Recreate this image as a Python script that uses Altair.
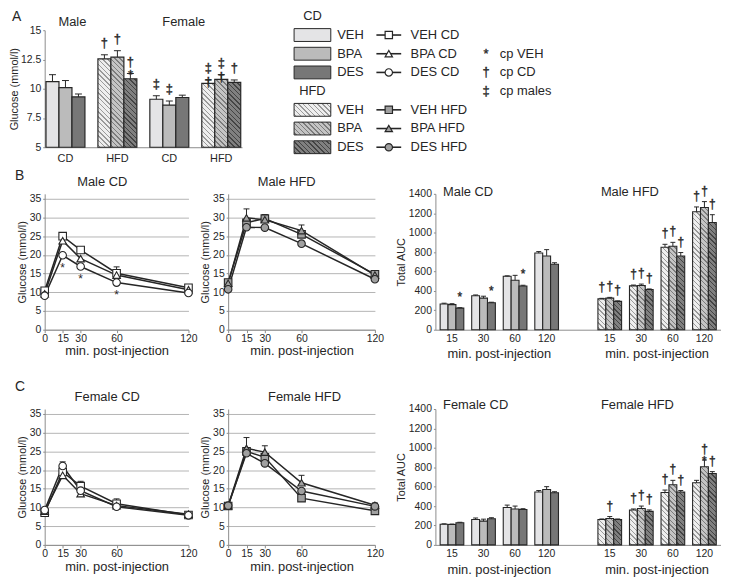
import math
import altair as alt

FONT = "Liberation Sans"
INK = "#262626"
AXIS = "#8c8c8c"
GRID = "#b4b4b4"

# ---------------- data ----------------
trts = ["VEH", "BPA", "DES"]
diets = ["CD", "HFD"]

# Panel A: fasting glucose (mmol/l)
a_groups = ["Male|CD", "Male|HFD", "Female|CD", "Female|HFD"]
a_mean_veh = [10.6, 12.55, 9.1, 10.45]
a_mean_bpa = [10.1, 12.7, 8.6, 10.8]
a_mean_des = [9.3, 10.85, 9.25, 10.55]
a_err_veh = [0.6, 0.35, 0.3, 0.3]
a_err_bpa = [0.6, 0.55, 0.35, 0.4]
a_err_des = [0.25, 0.45, 0.2, 0.2]
a_sig_veh = ["", "†", "‡", "‡\n†"]
a_sig_bpa = ["", "†", "‡", "‡\n†"]
a_sig_des = ["", "†\n*", "", "†"]
a_titles = ["Male", "Female"]
a_title_slots = ["Male|CD|VEH", "Female|CD|VEH"]
a_ticks = [5, 7.5, 10, 12.5, 15]

# Panels B/C: glucose after injection (mmol/l)
times = [0, 15, 30, 60, 120]
glu_ticks = [0, 5, 10, 15, 20, 25, 30, 35]
m_cd_veh = [10.4, 25.0, 21.3, 15.1, 11.2]
m_cd_bpa = [9.6, 23.8, 19.0, 14.6, 10.7]
m_cd_des = [9.1, 19.9, 16.9, 12.6, 9.8]
m_cd_err_veh = [0, 0.8, 0.6, 1.7, 0]
m_cd_err_bpa = [0, 0, 0, 0, 0]
m_cd_err_des = [0, 0, 0, 0, 0]
m_cd_sig_des = ["", "*", "*", "*", ""]

m_hfd_veh = [12.6, 28.6, 29.7, 25.5, 14.8]
m_hfd_bpa = [12.4, 29.9, 29.4, 26.5, 14.6]
m_hfd_des = [10.8, 27.4, 27.3, 23.0, 13.5]
m_hfd_err_veh = [0, 0, 1.1, 0, 0]
m_hfd_err_bpa = [0, 2.4, 0, 1.5, 0]
m_hfd_err_des = [0, 0, 0, 0, 0]

f_cd_veh = [8.6, 19.5, 15.7, 11.0, 8.0]
f_cd_bpa = [9.0, 18.6, 13.7, 10.5, 8.2]
f_cd_des = [9.3, 21.1, 14.5, 10.2, 7.9]
f_cd_err_veh = [0, 0, 1.3, 1.3, 0]
f_cd_err_bpa = [0, 0, 0, 0, 0.6]
f_cd_err_des = [0, 1.1, 0, 0, 0]

f_hfd_veh = [10.4, 25.0, 23.4, 12.5, 9.1]
f_hfd_bpa = [10.5, 25.8, 24.8, 16.6, 10.6]
f_hfd_des = [10.5, 24.5, 21.8, 14.4, 10.3]
f_hfd_err_veh = [0, 0, 0, 0, 0]
f_hfd_err_bpa = [0, 2.9, 1.7, 2.0, 0.6]
f_hfd_err_des = [0, 0, 0, 0, 0]

# AUC panels
auc_times = ["15", "30", "60", "120"]
auc_ticks = [0, 200, 400, 600, 800, 1000, 1200, 1400]
m_auc_cd_veh = [265, 350, 550, 790]
m_auc_cd_bpa = [258, 325, 510, 760]
m_auc_cd_des = [222, 278, 450, 675]
m_auc_cd_err_veh = [8, 8, 5, 15]
m_auc_cd_err_bpa = [10, 20, 50, 65]
m_auc_cd_err_des = [5, 5, 8, 15]
m_auc_cd_sig_veh = ["", "", "", ""]
m_auc_cd_sig_bpa = ["", "", "", ""]
m_auc_cd_sig_des = ["*", "*", "*", ""]
m_auc_hfd_veh = [318, 452, 850, 1215]
m_auc_hfd_bpa = [325, 455, 860, 1260]
m_auc_hfd_des = [292, 415, 760, 1105]
m_auc_hfd_err_veh = [5, 8, 30, 50]
m_auc_hfd_err_bpa = [8, 15, 40, 60]
m_auc_hfd_err_des = [5, 5, 35, 80]
m_auc_hfd_sig_veh = ["†", "†", "†", "†"]
m_auc_hfd_sig_bpa = ["†", "†", "†", "†"]
m_auc_hfd_sig_des = ["†", "†", "†", "†"]

f_auc_cd_veh = [212, 262, 385, 545]
f_auc_cd_bpa = [210, 245, 370, 570]
f_auc_cd_des = [228, 270, 365, 538]
f_auc_cd_err_veh = [5, 15, 25, 15]
f_auc_cd_err_bpa = [5, 20, 30, 30]
f_auc_cd_err_des = [5, 10, 8, 10]
f_auc_cd_sig_veh = ["", "", "", ""]
f_auc_cd_sig_bpa = ["", "", "", ""]
f_auc_cd_sig_des = ["", "", "", ""]
f_auc_hfd_veh = [262, 360, 540, 640]
f_auc_hfd_bpa = [272, 375, 620, 805]
f_auc_hfd_des = [262, 345, 545, 735]
f_auc_hfd_err_veh = [5, 10, 25, 25]
f_auc_hfd_err_bpa = [20, 25, 45, 70]
f_auc_hfd_err_des = [5, 15, 15, 20]
f_auc_hfd_sig_veh = ["", "†", "†", ""]
f_auc_hfd_sig_bpa = ["†", "†", "†", "†\n*"]
f_auc_hfd_sig_des = ["", "†", "†", "†"]

# Legend texts
legend_headers = ["CD", "HFD"]
legend_sig_symbols = ["*", "†", "‡"]
legend_sig_labels = ["cp VEH", "cp CD", "cp males"]

# ---------------- styles ----------------
solid = {"VEH": "#e4e4e6", "BPA": "#bbbbbb", "DES": "#777777"}
hatch_bg = {"VEH": "#eeeeee", "BPA": "#c4c4c4", "DES": "#808080"}
hatch_fg = {"VEH": "#9a9a9a", "BPA": "#7c7c7c", "DES": "#444444"}
marker_fill = {"CD": "#ffffff", "HFD": "#a0a0a0"}
shapes = ["square", "triangle-up", "circle"]


def hatch(trt, w, h, period=3.4, lw=1.0):
    """Diagonal stripe fill built as a hard-stop linear gradient."""
    bg, fg = hatch_bg[trt], hatch_fg[trt]
    w = max(w, 0.5)
    h = max(h, 0.5)
    kk = (w + h) / (w * w + h * h)
    n = (w + h) / (period * math.sqrt(2))
    frac = lw / period
    stops = [{"offset": 0, "color": bg}]
    k = 0
    while True:
        s = (k + 0.5 - frac / 2) / n
        e = (k + 0.5 + frac / 2) / n
        if s >= 1:
            break
        e = min(e, 1.0)
        s = round(s, 5)
        e = round(e, 5)
        stops += [{"offset": s, "color": bg}, {"offset": s, "color": fg},
                  {"offset": e, "color": fg}, {"offset": e, "color": bg}]
        k += 1
    stops.append({"offset": 1, "color": bg})
    return {"gradient": "linear", "x1": 0, "y1": 1,
            "x2": round(kk * w, 5), "y2": round(1 - kk * h, 5), "stops": stops}


def text_layer(txt, x, y, size=13, align="left"):
    return alt.Chart(alt.Data(values=[{"L": txt}])).mark_text(
        align=align, baseline="middle", fontSize=size, color=INK
    ).encode(x=alt.value(x), y=alt.value(y), text="L:N")


MID_LABEL = "split(datum.value, '|')[2] == 'BPA' ? split(datum.value, '|')[1] : ''"
SIG_STYLE = dict(color=INK, stroke=INK, strokeWidth=0.35)

# ---------------- Panel A ----------------
A_W, A_H = 199, 118
a_slots = []
for gi, g in enumerate(a_groups):
    if gi > 0:
        a_slots.append(f"gap{gi}")
    for t in trts:
        a_slots.append(f"{g}|{t}")
A_PO = 0.1
a_barw = A_W / (len(a_slots) + 2 * A_PO)

a_recs = []
for trt, means, errs, sigs in [("VEH", a_mean_veh, a_err_veh, a_sig_veh),
                               ("BPA", a_mean_bpa, a_err_bpa, a_sig_bpa),
                               ("DES", a_mean_des, a_err_des, a_sig_des)]:
    for g, v, e, s in zip(a_groups, means, errs, sigs):
        h = (v - 5) / 10 * A_H
        fill = hatch(trt, a_barw, h) if g.endswith("HFD") else solid[trt]
        a_recs.append({"slot": f"{g}|{trt}", "v": v, "top": v + e, "sig": s, "fill": fill})

xA = alt.X("slot:N", sort=a_slots,
           scale=alt.Scale(domain=a_slots, paddingInner=0, paddingOuter=A_PO),
           axis=alt.Axis(title=None, labelExpr=MID_LABEL, labelAngle=0, ticks=False,
                         labelFontSize=11, labelPadding=5))
ytA = "Glucose (mmol/l)"
ysA = alt.Scale(domain=[5, 15], zero=False, nice=False)
yaA = alt.Axis(values=a_ticks, grid=False, title=ytA, titlePadding=1, format=".1~f",
               labelOverlap=False, labelFlush=False)

baseA = alt.Chart(alt.Data(values=a_recs))
barsA = baseA.mark_bar(stroke=INK, strokeWidth=1.2).encode(
    x=xA, y=alt.Y("v:Q", scale=ysA, axis=yaA, title=ytA), y2=alt.datum(5),
    fill=alt.Fill("fill:N", scale=None))
errA = baseA.mark_rule(color=INK, strokeWidth=1).encode(
    x=xA, y=alt.Y("v:Q", scale=ysA, axis=yaA, title=ytA), y2="top:Q")
capA = baseA.mark_point(shape="M-1,0H1", size=49, color=INK, strokeWidth=1, opacity=1,
                        filled=False).encode(
    x=xA, y=alt.Y("top:Q", scale=ysA, axis=yaA, title=ytA))
sigA = baseA.mark_text(baseline="bottom", fontSize=13, lineBreak="\n", lineHeight=14,
                       dy=-5, **SIG_STYLE).encode(
    x=xA, y=alt.Y("top:Q", scale=ysA, axis=yaA, title=ytA), text="sig:N")
titA = alt.Chart(alt.Data(values=[{"slot": s, "lab": t} for s, t in zip(a_title_slots, a_titles)])
                 ).mark_text(align="left", baseline="middle", fontSize=13, dx=6, color=INK).encode(
    x=xA, y=alt.value(-8), text="lab:N")

panelA = alt.layer(barsA, errA, capA, sigA, titA, text_layer("A", -33, -13, 14)).properties(
    width=A_W, height=A_H)

# ---------------- Legend ----------------
SW_W, SW_H = 37, 13
leg_recs_head = [{"col": "bar", "row": r, "text": t} for r, t in zip([0, 4], legend_headers)]
leg_recs_sw = []
leg_recs_line = []
for d, base_row in zip(diets, [1, 5]):
    for i, trt in enumerate(trts):
        fill = hatch(trt, SW_W, SW_H) if d == "HFD" else solid[trt]
        leg_recs_sw.append({"col": "bar", "row": base_row + i, "text": trt, "fill": fill})
        leg_recs_line.append({"col": "line", "row": base_row + i, "text": f"{trt} {d}",
                              "trt": trt, "mfill": marker_fill[d]})
leg_recs_sig = [{"col": "sym", "row": 2 + i, "sym": s, "text": t}
                for i, (s, t) in enumerate(zip(legend_sig_symbols, legend_sig_labels))]

xL = alt.X("col:N", scale=alt.Scale(type="point", domain=["bar", "line", "sym"], range=[18, 193],
                                    padding=0), axis=None)
yL = alt.Y("row:O", scale=alt.Scale(type="point", domain=list(range(8)), range=[-14, 118],
                                    padding=0), axis=None)
L_DX = -10.5

lg_head = alt.Chart(alt.Data(values=leg_recs_head)).mark_text(fontSize=13, color=INK).encode(
    x=xL, y=yL, text="text:N")
lg_sw = alt.Chart(alt.Data(values=leg_recs_sw)).mark_point(
    shape="M-1,-0.35H1V0.35H-1Z", size=SW_W * SW_W, filled=True, stroke=INK, strokeWidth=1,
    opacity=1).encode(x=xL, y=yL, fill=alt.Fill("fill:N", scale=None))
lg_sw_t = alt.Chart(alt.Data(values=leg_recs_sw)).mark_text(
    align="left", dx=25, fontSize=13, color=INK).encode(x=xL, y=yL, text="text:N")
lg_seg = alt.Chart(alt.Data(values=leg_recs_line)).mark_point(
    shape="M-1,0H1", size=625, filled=False, color=INK, strokeWidth=1.6, opacity=1,
    xOffset=L_DX).encode(x=xL, y=yL)
lg_mk = alt.Chart(alt.Data(values=leg_recs_line)).mark_point(
    filled=True, size=55, stroke=INK, strokeWidth=1.2, opacity=1, xOffset=L_DX).encode(
    x=xL, y=yL, fill=alt.Fill("mfill:N", scale=None),
    shape=alt.Shape("trt:N", scale=alt.Scale(domain=trts, range=shapes), legend=None))
lg_line_t = alt.Chart(alt.Data(values=leg_recs_line)).mark_text(
    align="left", dx=11.5, fontSize=13, color=INK).encode(x=xL, y=yL, text="text:N")
lg_sym = alt.Chart(alt.Data(values=leg_recs_sig)).mark_text(
    fontSize=13, **SIG_STYLE).encode(x=xL, y=yL, text="sym:N")
lg_sym_t = alt.Chart(alt.Data(values=leg_recs_sig)).mark_text(
    align="left", dx=14, fontSize=13, color=INK).encode(x=xL, y=yL, text="text:N")

legend = alt.layer(lg_head, lg_sw, lg_sw_t, lg_seg, lg_mk, lg_line_t, lg_sym, lg_sym_t).properties(
    width=260, height=118)

# ---------------- line panels ----------------
LH = 137
Y_TOP = 35 * LH / (LH - 5)


def line_panel(title, title_x, diet, series, width, letter=None, letter_y=-18, sig_des=None):
    recs = []
    for trt, vals, errs in series:
        for i, (t, v, e) in enumerate(zip(times, vals, errs)):
            s = sig_des[i] if (sig_des is not None and trt == "DES") else ""
            recs.append({"t": t, "v": v, "top": v + e, "err": e, "trt": trt, "sig": s})
    base = alt.Chart(alt.Data(values=recs))
    xt = "min. post-injection"
    yt = "Glucose (mmol/l)"
    x = alt.X("t:Q", scale=alt.Scale(domain=[0, 120], nice=False),
              axis=alt.Axis(values=times, grid=False, title=xt, titleFontSize=13, tickSize=3,
                            labelPadding=1, titlePadding=1, labelOverlap=False, labelFlush=False),
              title=xt)
    ys = alt.Scale(domain=[0, Y_TOP], nice=False)
    yax = alt.Axis(values=glu_ticks, grid=True, title=yt, labelOverlap=False, labelFlush=False)
    y = alt.Y("v:Q", scale=ys, axis=yax, title=yt)
    ytop = alt.Y("top:Q", scale=ys, axis=yax, title=yt)
    lines = base.mark_line(color=INK, strokeWidth=1.5).encode(x=x, y=y, detail="trt:N")
    eb = base.transform_filter("datum.err > 0")
    err = eb.mark_rule(color=INK, strokeWidth=1).encode(x=x, y=y, y2="top:Q")
    cap = eb.mark_point(shape="M-1,0H1", size=36, filled=False, color=INK, strokeWidth=1,
                        opacity=1).encode(x=x, y=ytop)
    pts = base.mark_point(filled=True, size=58, stroke=INK, strokeWidth=1.1,
                          fill=marker_fill[diet], opacity=1).encode(
        x=x, y=y, shape=alt.Shape("trt:N", scale=alt.Scale(domain=trts, range=shapes), legend=None))
    layers = [lines, err, cap, pts, text_layer(title, title_x, -12, 13, "center")]
    if sig_des is not None:
        stars = base.transform_filter("datum.sig != ''").mark_text(
            dy=13, fontSize=12, color=INK).encode(x=x, y=y, text="sig:N")
        layers.append(stars)
    if letter:
        layers.append(text_layer(letter, -30, letter_y, 14))
    return alt.layer(*layers).properties(width=width, height=LH)


# ---------------- AUC panels ----------------
AW, AH = 288, 137
au_slots = []
for d in diets:
    for i, t in enumerate(auc_times):
        if i > 0:
            au_slots.append(f"gap|{d}|{i}")
        for trt in trts:
            au_slots.append(f"{d}|{t}|{trt}")
    if d == "CD":
        au_slots += [f"mid|{k}" for k in range(5)]
AU_PO = 0.6
au_barw = AW / (len(au_slots) + 2 * AU_PO)


def auc_panel(sex, title_y, data):
    recs = []
    for diet, trt, vals, errs, sigs in data:
        for t, v, e, s in zip(auc_times, vals, errs, sigs):
            fill = hatch(trt, au_barw, v / 1400 * AH) if diet == "HFD" else solid[trt]
            recs.append({"slot": f"{diet}|{t}|{trt}", "v": v, "top": v + e, "sig": s,
                         "fill": fill})
    base = alt.Chart(alt.Data(values=recs))
    x = alt.X("slot:N", sort=au_slots,
              scale=alt.Scale(domain=au_slots, paddingInner=0, paddingOuter=AU_PO),
              axis=alt.Axis(title=None, labelAngle=0, ticks=False, labelPadding=4,
                            labelExpr=MID_LABEL, labelOverlap=False))
    yt = "Total AUC"
    ys = alt.Scale(domain=[0, 1400], nice=False)
    yax = alt.Axis(values=auc_ticks, grid=False, format="d", title=yt, labelOverlap=False,
                   labelFlush=False)
    y = alt.Y("v:Q", scale=ys, axis=yax, title=yt)
    ytop = alt.Y("top:Q", scale=ys, axis=yax, title=yt)
    bars = base.mark_bar(stroke=INK, strokeWidth=1.1).encode(
        x=x, y=y, fill=alt.Fill("fill:N", scale=None))
    err = base.mark_rule(color=INK, strokeWidth=1).encode(x=x, y=y, y2="top:Q")
    cap = base.mark_point(shape="M-1,0H1", size=25, filled=False, color=INK, strokeWidth=1,
                          opacity=1).encode(x=x, y=ytop)
    sig = base.mark_text(baseline="bottom", fontSize=12, lineBreak="\n", lineHeight=12, dy=-4,
                         **SIG_STYLE).encode(x=x, y=ytop, text="sig:N")
    tit = alt.Chart(alt.Data(values=[{"slot": "CD|15|VEH", "lab": f"{sex} CD"},
                                     {"slot": "HFD|15|VEH", "lab": f"{sex} HFD"}])).mark_text(
        align="left", baseline="middle", fontSize=13, dx=-1, color=INK).encode(
        x=x, y=alt.value(title_y), text="lab:N")
    xtit = alt.Chart(alt.Data(values=[{"slot": "gap|CD|2", "lab": "min. post-injection"},
                                      {"slot": "gap|HFD|2", "lab": "min. post-injection"}])).mark_text(
        baseline="middle", fontSize=13, color=INK).encode(
        x=x, y=alt.value(AH + 25), text="lab:N")
    return alt.layer(bars, err, cap, sig, tit, xtit).properties(width=AW, height=AH)


m_cd = line_panel("Male CD", 58, "CD", [("VEH", m_cd_veh, m_cd_err_veh), ("BPA", m_cd_bpa, m_cd_err_bpa),
                                        ("DES", m_cd_des, m_cd_err_des)], 145, letter="B",
                  letter_y=-18, sig_des=m_cd_sig_des)
m_hfd = line_panel("Male HFD", 59, "HFD", [("VEH", m_hfd_veh, m_hfd_err_veh), ("BPA", m_hfd_bpa, m_hfd_err_bpa),
                                           ("DES", m_hfd_des, m_hfd_err_des)], 148)
f_cd = line_panel("Female CD", 63, "CD", [("VEH", f_cd_veh, f_cd_err_veh), ("BPA", f_cd_bpa, f_cd_err_bpa),
                                          ("DES", f_cd_des, f_cd_err_des)], 145, letter="C",
                  letter_y=-22)
f_hfd = line_panel("Female HFD", 77, "HFD", [("VEH", f_hfd_veh, f_hfd_err_veh), ("BPA", f_hfd_bpa, f_hfd_err_bpa),
                                             ("DES", f_hfd_des, f_hfd_err_des)], 148)

m_auc = auc_panel("Male", -2, [
    ("CD", "VEH", m_auc_cd_veh, m_auc_cd_err_veh, m_auc_cd_sig_veh),
    ("CD", "BPA", m_auc_cd_bpa, m_auc_cd_err_bpa, m_auc_cd_sig_bpa),
    ("CD", "DES", m_auc_cd_des, m_auc_cd_err_des, m_auc_cd_sig_des),
    ("HFD", "VEH", m_auc_hfd_veh, m_auc_hfd_err_veh, m_auc_hfd_sig_veh),
    ("HFD", "BPA", m_auc_hfd_bpa, m_auc_hfd_err_bpa, m_auc_hfd_sig_bpa),
    ("HFD", "DES", m_auc_hfd_des, m_auc_hfd_err_des, m_auc_hfd_sig_des)])
f_auc = auc_panel("Female", -4, [
    ("CD", "VEH", f_auc_cd_veh, f_auc_cd_err_veh, f_auc_cd_sig_veh),
    ("CD", "BPA", f_auc_cd_bpa, f_auc_cd_err_bpa, f_auc_cd_sig_bpa),
    ("CD", "DES", f_auc_cd_des, f_auc_cd_err_des, f_auc_cd_sig_des),
    ("HFD", "VEH", f_auc_hfd_veh, f_auc_hfd_err_veh, f_auc_hfd_sig_veh),
    ("HFD", "BPA", f_auc_hfd_bpa, f_auc_hfd_err_bpa, f_auc_hfd_sig_bpa),
    ("HFD", "DES", f_auc_hfd_des, f_auc_hfd_err_des, f_auc_hfd_sig_des)])

rowA = alt.hconcat(panelA, legend, spacing=50)
rowB = alt.hconcat(alt.hconcat(m_cd, m_hfd, spacing=2), m_auc, spacing=11)
rowC = alt.hconcat(alt.hconcat(f_cd, f_hfd, spacing=2), f_auc, spacing=11)

chart = alt.vconcat(alt.vconcat(rowA, rowB, spacing=6), rowC, spacing=19).properties(
    padding=0
).configure(font=FONT).configure_view(stroke=None).configure_axis(
    domainColor=AXIS, tickColor=AXIS, labelColor=INK, titleColor=INK, labelFontSize=10.5,
    titleFontSize=11, titleFontWeight="normal", gridColor=GRID, tickSize=2, labelPadding=2,
    titlePadding=2, labelFont=FONT, titleFont=FONT, labelOverlap=False, labelFlush=False
).configure_title(font=FONT)

chart.save("out.html", embed_options={"renderer": "svg", "actions": False})
